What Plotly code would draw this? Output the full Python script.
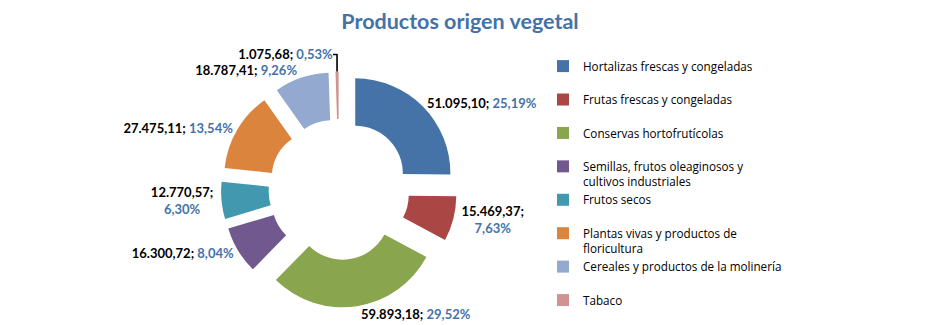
import plotly.graph_objects as go

labels = [
    "Hortalizas frescas y congeladas",
    "Frutas frescas y congeladas",
    "Conservas hortofrutícolas",
    "Semillas, frutos oleaginosos y<br>cultivos industriales",
    "Frutos secos",
    "Plantas vivas y productos de<br>floricultura",
    "Cereales y productos de la molinería",
    "Tabaco",
]
values = [51095.10, 15469.37, 59893.18, 16300.72, 12770.57, 27475.11, 18787.41, 1075.68]
colors = ["#4572A7", "#AA4643", "#89A54E", "#71588F", "#4198AF", "#DB843D", "#93A9CF", "#D19392"]

BLUE = "#4472A8"
one = "<b>%{value:,.2f}; </b><b><span style='color:" + BLUE + "'>%{percent:.2%}</span></b>"
two = "<b>%{value:,.2f};</b><br><b><span style='color:" + BLUE + "'>%{percent:.2%}</span></b>"
templates = [one, two, one, one, two, one, one, one]

legend_names = [l if "<br>" in l else l + "<br> " for l in labels]

fig = go.Figure(go.Pie(
    labels=legend_names,
    values=values,
    marker=dict(colors=colors, line=dict(width=0)),
    hole=0.5,
    pull=[0.24] * len(values),
    sort=False,
    direction="clockwise",
    rotation=0,
    textposition="outside",
    texttemplate=templates,
    outsidetextfont=dict(family="Lato", size=13, color="black"),
    domain=dict(x=[139 / 943, 539 / 943], y=[17.5 / 325, 253.5 / 325]),
    showlegend=True,
))

fig.update_layout(
    width=943, height=325,
    margin=dict(l=0, r=0, t=0, b=0, autoexpand=False),
    separators=",.",
    paper_bgcolor="white",
    title=dict(text="<b>Productos origen vegetal</b>", x=460 / 943, xanchor="center",
               y=1 - 21 / 325, yanchor="middle",
               font=dict(family="Lato", size=21.5, color=BLUE)),
    legend=dict(x=543 / 943, y=1 - 52 / 325, xanchor="left", yanchor="top",
                font=dict(family="Open Sans", size=11.7, color="black"),
                valign="top", traceorder="normal"),
)

fig.write_html("out.html")
